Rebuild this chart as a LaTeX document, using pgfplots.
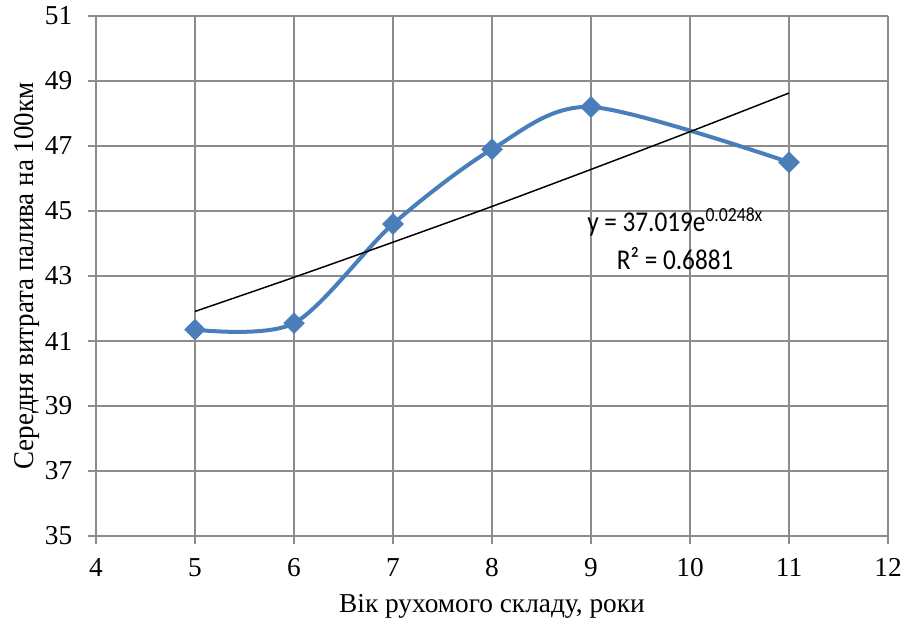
\documentclass[border=0pt]{standalone}
\usepackage{fontspec}
\setmainfont{Liberation Serif}
\newfontfamily\ylabfont{Liberation Serif}[FakeStretch=0.94]
\newfontfamily\calibri{Carlito}[FakeStretch=0.88]
\usepackage{pgfplots}
\pgfplotsset{compat=1.18}
\definecolor{exblue}{HTML}{4A7EBB}
\definecolor{gridgray}{HTML}{8C8C8C}
\begin{document}
\fontsize{20}{24}\selectfont
\begin{tikzpicture}
\begin{axis}[
  scale only axis,
  width=594pt, height=390pt,
  xmin=4, xmax=12, ymin=35, ymax=51,
  xtick={4,5,...,12}, ytick={35,37,...,51},
  grid=major,
  major grid style={gridgray, line width=1.3pt},
  axis line style={gridgray, line width=1.3pt},
  axis lines=left,
  axis line style={-},
  separate axis lines,
  tick style={gridgray, line width=1.3pt},
  tick align=outside,
  major tick length=6pt,
  /pgf/number format/assume math mode=true,
  ticklabel style={font=\fontsize{20.5}{24}\selectfont},
  xticklabel style={yshift=-4pt},
  yticklabel style={xshift=-5pt},
  xlabel={Вік рухомого складу, роки},
  ylabel={Середня витрата палива на 100км},
  xlabel style={font=\fontsize{20.5}{24}\selectfont, at={(axis description cs:0.5,-0.148)}, anchor=base},
  ylabel style={font=\ylabfont\fontsize{21.5}{24}\selectfont, at={(axis description cs:-0.0795,0.5)}, anchor=base},
  clip=false,
]
\addplot[exblue, line width=3pt, smooth, tension=0.5, mark=square*, mark size=5.5pt,
  mark options={rotate=45, solid, fill=exblue, draw=exblue, line width=0.5pt}]
  coordinates {(5,41.35) (6,41.55) (7,44.6) (8,46.9) (9,48.2) (11,46.5)};
\addplot[black, line width=1.1pt, smooth, no marks]
  coordinates {(5,41.91) (6,42.96) (7,44.04) (8,45.14) (9,46.28) (10,47.44) (11,48.63)};
\node[align=center, font=\calibri\fontsize{21.5}{28}\selectfont] at (axis cs:9.85,44.15)
  {y = 37.019e\textsuperscript{0.0248x}\\R² = 0.6881};
\end{axis}
\pgfresetboundingbox
\path (-72pt,-61.5pt) rectangle (606.75pt,402pt);
\end{tikzpicture}
\end{document}
